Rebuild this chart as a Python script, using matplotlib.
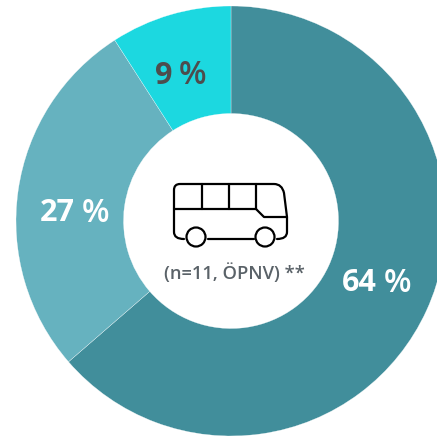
import matplotlib
matplotlib.use("Agg")
import matplotlib.pyplot as plt
from matplotlib.path import Path
from matplotlib.patches import PathPatch, Circle

# counts out of n=11
values = [7, 3, 1]
numbers = ["64", "27", "9"]
colors = ["#418e9b", "#66b2bf", "#1cd8e0"]
label_colors = ["white", "white", "#4d4d4d"]
label_pos = [(377, 283), (75, 213), (172, 76)]
caption = "(n=11, ÖPNV) **"

plt.rcParams['font.family'] = ['Open Sans', 'DejaVu Sans']

fig = plt.figure(figsize=(4.37, 4.36), dpi=100, facecolor='w')
ax = fig.add_axes([0, 0, 1, 1])

# y axis runs downwards so the axes units are the picture's pixels
wedges, _ = ax.pie(values, colors=colors, center=(231, 221), radius=215, startangle=-90,
                   wedgeprops=dict(width=107.5, edgecolor='white', linewidth=0.2))
ax.set_aspect('auto')
ax.set_xlim(0, 437)
ax.set_ylim(436, 0)
ax.axis('off')

for num, col, pos in zip(numbers, label_colors, label_pos):
    ax.text(pos[0], pos[1], num, color=col, fontsize=22, fontweight='bold', ha='right', va='center')
    ax.text(pos[0] + 7, pos[1], "%", color=col, fontsize=23, fontweight='semibold', ha='left', va='center')

ax.text(234, 273, caption, color='#5a6268', fontsize=13.2, fontweight='semibold', ha='center', va='center')

# bus icon
M, L, C = Path.MOVETO, Path.LINETO, Path.CURVE3
body = [(184, 239), (174, 239), (174, 232), (174, 190), (174, 184), (180, 184), (274, 184),
        (282, 184), (284, 193), (287, 217), (287, 232), (287, 239), (277, 239)]
body_c = [M, C, C, L, C, C, L, C, C, L, L, C, C]
shapes = [
    (body, body_c),
    ([(208, 239), (254, 239)], [M, L]),
    ([(174, 209), (256, 209), (264, 217), (287, 217)], [M, L, L, L]),
    ([(202, 184), (202, 209)], [M, L]),
    ([(229, 184), (229, 209)], [M, L]),
    ([(256, 184), (256, 209)], [M, L]),
]
for verts, codes in shapes:
    ax.add_patch(PathPatch(Path(verts, codes), fill=False, edgecolor='black', linewidth=1.6, capstyle='round', joinstyle='round'))
for cx in [196, 265]:
    ax.add_patch(Circle((cx, 237), 9.5, fill=False, edgecolor='black', linewidth=1.6))

fig.savefig('out.png', dpi=100)
